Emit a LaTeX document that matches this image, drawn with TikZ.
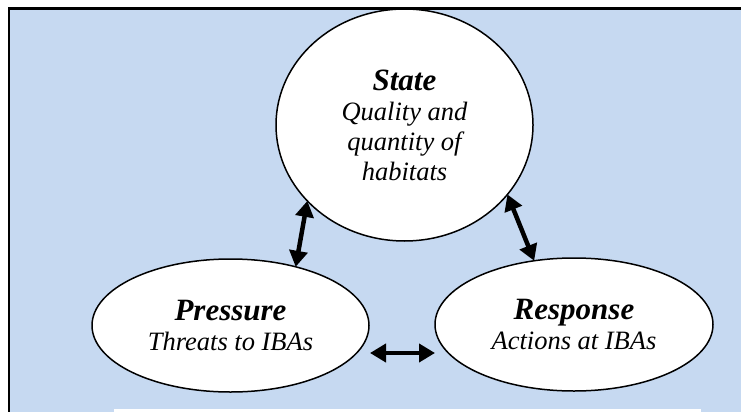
\documentclass[tikz,border=0pt]{standalone}
\usepackage{fontspec}
\setmainfont{Liberation Serif}
\usetikzlibrary{arrows.meta,calc,shapes.geometric}
\definecolor{bgblue}{HTML}{C6D9F1}
\newcommand\ttlfont{\fontsize{31}{31}\selectfont\bfseries}
\begin{document}
\begin{tikzpicture}[x=1pt,y=-1pt,
  bubble/.style={ellipse,draw=black,line width=1.5pt,fill=white,inner sep=0pt,outer sep=0pt,
    align=center,font=\fontsize{26.5}{30}\selectfont\itshape},
  dbl/.style={{Triangle[length=16pt,width=18pt]}-{Triangle[length=16pt,width=18pt]},line width=4.5pt},
]
\useasboundingbox (0,0) rectangle (741,412);
\fill[white] (0,0) rectangle (741,412);
\fill[bgblue] (10,10) rectangle (741,412);
\fill[white] (114,409) rectangle (701,412);
\draw[line width=2.5pt] (741,8.75) -- (8.75,8.75) -- (8.75,412);

\node[bubble,minimum width=257pt,minimum height=232pt] (state) at (404.5,125)
  {{\ttlfont State}\\Quality and\\quantity of\\habitats};
\node[bubble,minimum width=277pt,minimum height=133pt] (pressure) at (230.5,325.5)
  {{\ttlfont Pressure}\\Threats to IBAs};
\node[bubble,minimum width=278pt,minimum height=133pt] (response) at (574,324.5)
  {{\ttlfont Response}\\Actions at IBAs};

\draw[dbl] (state.218.3) -- (pressure.42.1);
\draw[dbl] (state.-34.9) -- (response.122.3);
\draw[dbl] ($(pressure.center)+(139.5,27.5)$) -- ($(response.center)+(-139,28.5)$);
\end{tikzpicture}
\end{document}
